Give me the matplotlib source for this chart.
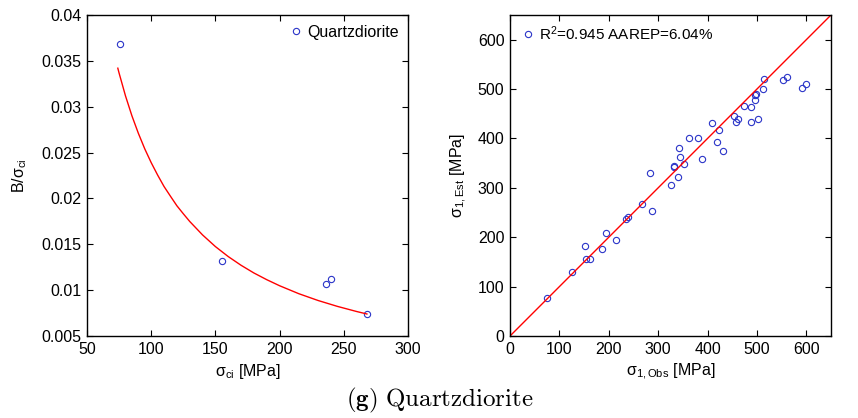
import matplotlib
matplotlib.use("Agg")
import matplotlib.pyplot as plt
from matplotlib.ticker import FuncFormatter

plt.rcParams["font.family"] = ["Liberation Sans", "DejaVu Sans"]
plt.rcParams["mathtext.fontset"] = "custom"
plt.rcParams["mathtext.rm"] = "Liberation Sans"
plt.rcParams["mathtext.it"] = "Liberation Sans:italic"

# left panel: B/sigma_ci vs sigma_ci
sci = [75.9, 155.1, 236.1, 240.0, 268.3]
b_ratio = [0.0368, 0.01314, 0.0107, 0.01125, 0.00743]

# fitted curve
fit_x = [74, 75, 80, 85, 90, 95, 100, 105, 110, 115, 120, 125, 130, 140, 150, 160,
         170, 180, 190, 200, 215, 230, 245, 260, 268]
fit_y = [0.0342, 0.03366, 0.03117, 0.0290, 0.0271, 0.0254, 0.0239, 0.02255, 0.0213,
         0.02024, 0.0192, 0.01833, 0.01749, 0.01602, 0.01475, 0.01366, 0.01271,
         0.01187, 0.01114, 0.01048, 0.00961, 0.00887, 0.00823, 0.00767, 0.0074]

# right panel: estimated vs observed sigma_1
s1_obs = [515, 552, 561, 591, 600, 512, 498, 497, 496, 474, 489, 453, 461, 457, 502,
          489, 410, 423, 363, 380, 419, 431, 342, 344, 389, 352, 332, 333, 284, 341,
          327, 267, 287, 235, 239, 195, 214, 151, 187, 154, 161, 125, 75]
s1_est = [521, 518, 524, 502, 510, 500, 490, 489, 478, 466, 464, 446, 439, 434, 440,
          433, 432, 418, 401, 400, 392, 375, 381, 362, 358, 348, 344, 342, 331, 321,
          306, 267, 253, 236, 240, 209, 194, 183, 176, 155, 155, 130, 76]

fig = plt.figure(figsize=(8.58, 4.18), dpi=100)
ax1 = fig.add_axes([87 / 858, 82 / 418, 321 / 858, 321 / 418])
ax2 = fig.add_axes([510 / 858, 82 / 418, 321 / 858, 321 / 418])

fs = 11.5
blue = "#2b35c8"

ax1.plot(sci, b_ratio, "o", mfc="none", mec=blue, ms=4.5, mew=0.8, label="Quartzdiorite")
ax1.plot(fit_x, fit_y, "-", color="#ff0000", lw=1.0)
ax1.set_xlim(50, 300)
ax1.set_ylim(0.005, 0.04)
ax1.set_xticks([50, 100, 150, 200, 250, 300])
ax1.set_yticks([0.005, 0.01, 0.015, 0.02, 0.025, 0.03, 0.035, 0.04])
ax1.yaxis.set_major_formatter(FuncFormatter(lambda v, p: "%g" % round(v, 4)))
ax1.set_xlabel("σ$_{\\rm ci}$ [MPa]", fontsize=fs, labelpad=4)
ax1.set_ylabel("B/σ$_{\\rm ci}$", fontsize=fs, labelpad=9)
ax1.legend(loc="upper right", frameon=False, fontsize=fs, handletextpad=0.1,
           borderaxespad=0.2, handlelength=1.2)

ax2.plot(s1_obs, s1_est, "o", mfc="none", mec=blue, ms=4.5, mew=0.8,
         label="R$^2$=0.945 AAREP=6.04%")
ax2.plot([0, 650], [0, 650], "-", color="#ff0000", lw=1.0)
ax2.set_xlim(0, 650)
ax2.set_ylim(0, 650)
ax2.set_xticks(range(0, 700, 100))
ax2.set_yticks(range(0, 700, 100))
ax2.set_xlabel("σ$_{\\rm 1,Obs}$ [MPa]", fontsize=fs, labelpad=4)
ax2.set_ylabel("σ$_{\\rm 1,Est}$ [MPa]", fontsize=fs, labelpad=6)
ax2.legend(loc="upper left", frameon=False, fontsize=11, handletextpad=0.1,
           borderaxespad=0.2, handlelength=1.2)

for ax in (ax1, ax2):
    ax.tick_params(direction="in", top=True, right=True, labelsize=fs,
                   length=4, width=0.8, pad=4)
    for s in ax.spines.values():
        s.set_linewidth(1.0)

fig.text(440 / 858, 12 / 418, r"$\mathbf{(g)}\ \mathrm{Quartzdiorite}$", ha="center",
         va="baseline", fontsize=18, math_fontfamily="cm")

fig.savefig("out.png", dpi=100)
